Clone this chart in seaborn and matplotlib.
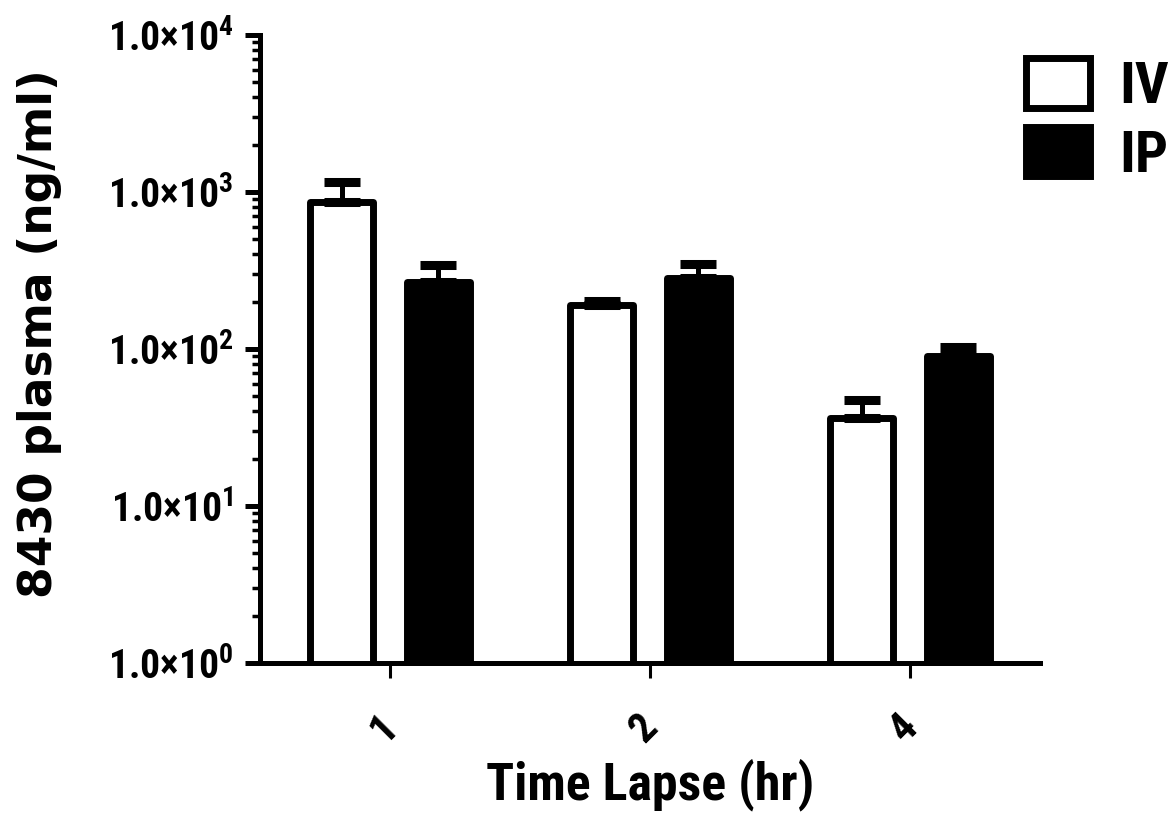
import numpy as np
import pandas as pd
import matplotlib
matplotlib.use("Agg")
import matplotlib.pyplot as plt
from matplotlib import font_manager
from matplotlib.ticker import FixedLocator, LogLocator, NullFormatter
from matplotlib.transforms import ScaledTranslation
import seaborn as sns

# Data
time_points = ["1", "2", "4"]
routes = ["IV", "IP"]
iv_mean = [863, 191, 36.6]
ip_mean = [269, 285, 89.6]
iv_sem = [295, 10, 10.7]
ip_sem = [75, 65, 12.7]
y_ticks = [1, 10, 100, 1000, 10000]
y_tick_labels = [r"$\mathrm{1.0{\times}10^{%d}}$" % i for i in range(5)]


def pick_narrow_font():
    # the reference uses a narrow bold sans; take the first one installed
    names = {f.name for f in font_manager.fontManager.ttflist}
    for name in ["Roboto Condensed", "Liberation Sans Narrow", "Open Sans Condensed"]:
        if name in names:
            return name, 1.0
    # fall back to the normal width font, a bit smaller
    return "Liberation Sans", 0.84


def main():
    sns.set_theme(style="white", rc={
        "text.color": "black", "axes.labelcolor": "black",
        "xtick.color": "black", "ytick.color": "black",
        "axes.edgecolor": "black",
    })

    narrow, scale = pick_narrow_font()
    plt.rcParams["font.family"] = [narrow, "DejaVu Sans"]
    plt.rcParams["font.weight"] = "bold"
    plt.rcParams["mathtext.fontset"] = "custom"
    plt.rcParams["mathtext.rm"] = narrow + ":bold"
    plt.rcParams["mathtext.it"] = narrow + ":bold"
    plt.rcParams["mathtext.bf"] = narrow + ":bold"

    df = pd.DataFrame({
        "time": time_points * 2,
        "route": ["IV"] * 3 + ["IP"] * 3,
        "value": iv_mean + ip_mean,
        "sem": iv_sem + ip_sem,
    })

    fig = plt.figure(figsize=(11.7, 8.19), dpi=100)
    ax = fig.add_axes([0.2222, 0.1905, 0.6667, 0.7668])

    sns.barplot(data=df, x="time", y="value", hue="route", hue_order=routes,
                palette=["white", "black"], edgecolor="black", linewidth=5,
                width=0.744, gap=0.35, errorbar=None, legend=True, ax=ax)
    ax.set_yscale("log")

    # one-sided error bars on top of each bar
    for patch, (_, row) in zip(ax.patches, df.iterrows()):
        patch.set_joinstyle("round")
        xc = patch.get_x() + patch.get_width() / 2
        ax.errorbar(xc, row["value"], yerr=[[0], [row["sem"]]], fmt="none",
                    ecolor="black", elinewidth=3.6, capsize=13, capthick=6.5,
                    zorder=1)

    ax.set_ylim(1, 10000)
    ax.set_xlim(-0.5, 2.5)
    ax.yaxis.set_major_locator(FixedLocator(y_ticks))
    ax.set_yticklabels(y_tick_labels, fontsize=28.5 * scale)
    ax.yaxis.set_minor_locator(LogLocator(base=10, subs=np.arange(2, 10), numticks=20))
    ax.yaxis.set_minor_formatter(NullFormatter())

    for side in ["top", "right"]:
        ax.spines[side].set_visible(False)
    for side in ["left", "bottom"]:
        ax.spines[side].set_linewidth(3.6)

    ax.tick_params(axis="y", which="major", direction="out", length=11, width=3.6,
                   pad=8, left=True)
    ax.tick_params(axis="y", which="minor", direction="out", length=5.5, width=2.5,
                   left=True)
    ax.tick_params(axis="x", which="major", direction="out", length=11, width=2.2,
                   pad=20, bottom=True)
    shift = ScaledTranslation(-6 / 100, 0, fig.dpi_scale_trans)
    for lab in ax.get_xticklabels():
        lab.set_rotation(45)
        lab.set_fontsize(30 * scale)
        lab.set_ha("center")
        lab.set_va("top")
        lab.set_transform(lab.get_transform() + shift)

    ax.set_xlabel("Time Lapse (hr)", fontsize=37.4 * scale, fontweight="bold", labelpad=6)
    ax.set_ylabel("8430 plasma (ng/ml)", fontsize=32.8, fontweight="bold",
                  family="DejaVu Sans")
    ax.yaxis.set_label_coords(-0.254, 0.525)

    handles, labels = ax.get_legend_handles_labels()
    ax.legend(handles, labels, loc="upper left", bbox_to_anchor=(0.877, 0.929),
              bbox_transform=fig.transFigure, frameon=False, fontsize=42 * scale,
              handlelength=1.1 / scale, handleheight=0.93 / scale,
              handletextpad=0.5, labelspacing=0.2 / scale,
              borderpad=0, borderaxespad=0)

    fig.savefig("out.png", dpi=100)
    plt.close(fig)


if __name__ == "__main__":
    main()
